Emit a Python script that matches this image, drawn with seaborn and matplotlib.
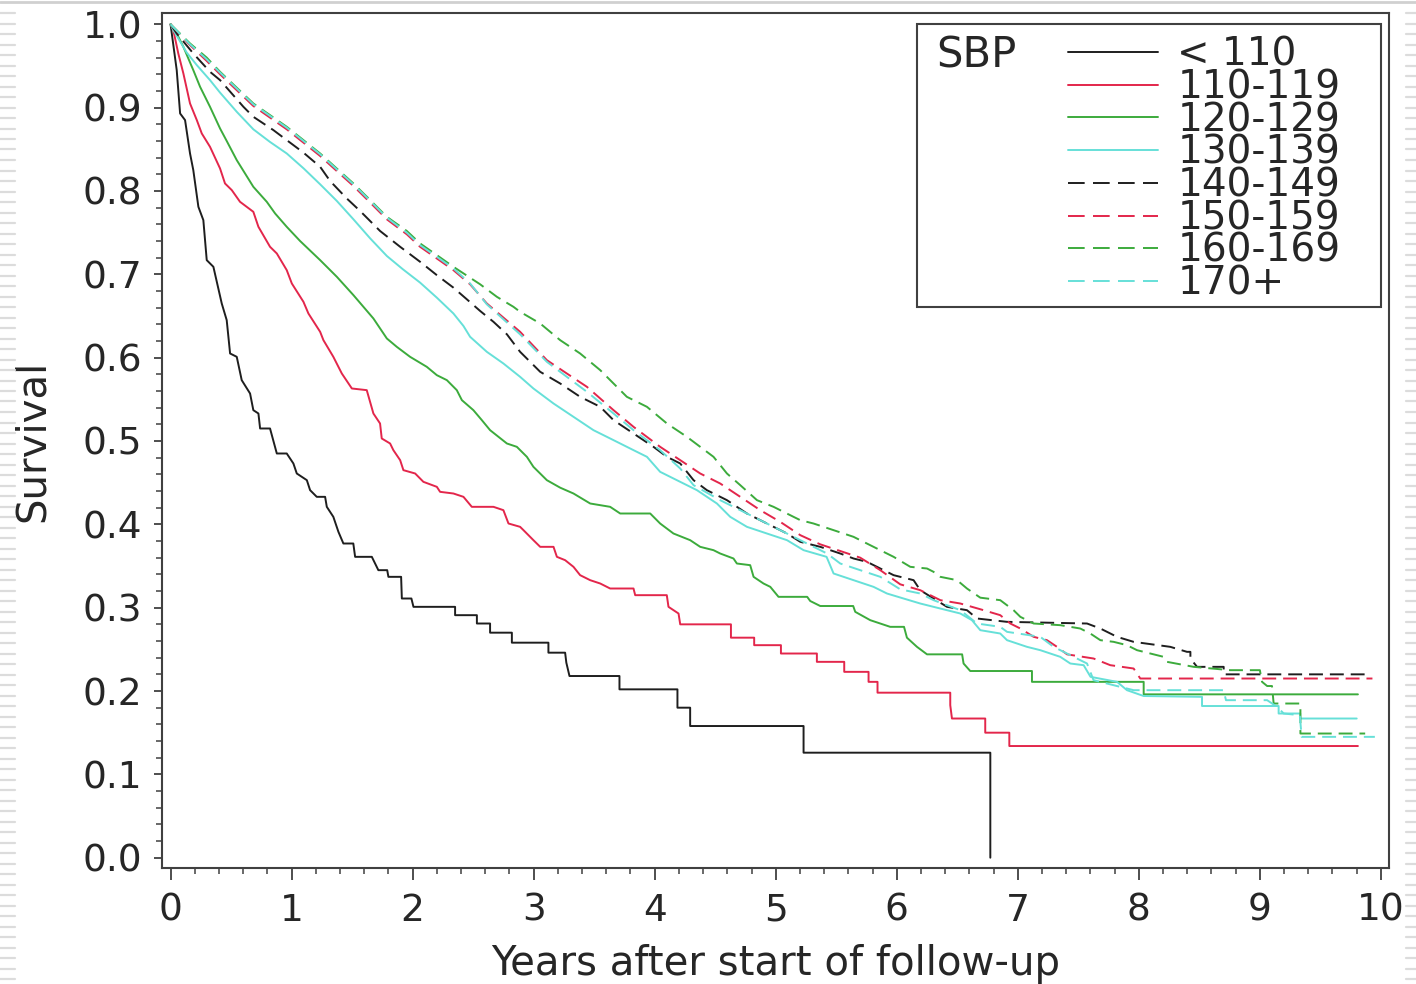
import numpy as np
import pandas as pd
import matplotlib
matplotlib.use("Agg")
import matplotlib.pyplot as plt
from matplotlib.lines import Line2D
from matplotlib.patches import Rectangle
from matplotlib.ticker import MultipleLocator, FormatStrFormatter
import seaborn as sns

# ---------------- data ----------------
groups = ["< 110", "110-119", "120-129", "130-139", "140-149", "150-159", "160-169", "170+"]

t_lt110 = [0.0, 0.051, 0.079, 0.12, 0.161, 0.188, 0.23, 0.271, 0.299, 0.354, 0.423, 0.464, 0.492, 0.547,
           0.588, 0.657, 0.684, 0.726, 0.74, 0.822, 0.878, 0.96, 1.015, 1.043, 1.126, 1.153, 1.208, 1.277,
           1.291, 1.345, 1.387, 1.428, 1.51, 1.525, 1.663, 1.717, 1.79, 1.80, 1.905, 1.911, 1.99, 2.007,
           2.351, 2.351, 2.531, 2.531, 2.64, 2.64, 2.82, 2.82, 3.122, 3.122, 3.26, 3.27, 3.296, 3.709,
           3.709, 4.188, 4.188, 4.293, 4.293, 5.23, 5.23, 6.773, 6.773]
s_lt110 = [1.0, 0.945, 0.893, 0.885, 0.845, 0.825, 0.781, 0.765, 0.717, 0.709, 0.665, 0.645, 0.605, 0.601,
           0.573, 0.557, 0.537, 0.533, 0.515, 0.515, 0.485, 0.485, 0.473, 0.461, 0.453, 0.441, 0.433, 0.433,
           0.421, 0.409, 0.391, 0.377, 0.377, 0.361, 0.361, 0.345, 0.345, 0.337, 0.337, 0.311, 0.311, 0.301,
           0.301, 0.291, 0.291, 0.281, 0.281, 0.270, 0.270, 0.258, 0.258, 0.246, 0.246, 0.234, 0.218, 0.218,
           0.202, 0.202, 0.180, 0.180, 0.158, 0.158, 0.126, 0.126, 0.0]

t_110 = [0.0, 0.023, 0.064, 0.106, 0.161, 0.217, 0.258, 0.326, 0.409, 0.45, 0.506, 0.574, 0.684, 0.726,
         0.822, 0.878, 0.96, 1.002, 1.098, 1.139, 1.236, 1.263, 1.345, 1.415, 1.498, 1.621, 1.676, 1.731,
         1.745, 1.814, 1.841, 1.897, 1.924, 2.021, 2.089, 2.2, 2.227, 2.337, 2.42, 2.489, 2.668, 2.75,
         2.792, 2.888, 2.916, 2.998, 3.054, 3.164, 3.192, 3.26, 3.329, 3.384, 3.467, 3.55, 3.632, 3.825,
         3.839, 4.10, 4.114, 4.197, 4.211, 4.63, 4.63, 4.822, 4.822, 5.043, 5.043, 5.34, 5.34, 5.566,
         5.566, 5.767, 5.767, 5.841, 5.841, 6.442, 6.442, 6.456, 6.731, 6.731, 6.93, 6.93, 9.81]
s_110 = [1.0, 0.993, 0.965, 0.941, 0.905, 0.885, 0.869, 0.853, 0.827, 0.809, 0.801, 0.787, 0.775, 0.757,
         0.733, 0.725, 0.705, 0.689, 0.667, 0.653, 0.631, 0.621, 0.601, 0.581, 0.563, 0.561, 0.533, 0.521,
         0.503, 0.497, 0.489, 0.477, 0.465, 0.461, 0.451, 0.445, 0.439, 0.437, 0.433, 0.421, 0.421, 0.417,
         0.401, 0.397, 0.393, 0.381, 0.373, 0.373, 0.361, 0.357, 0.349, 0.339, 0.333, 0.329, 0.323, 0.323,
         0.315, 0.315, 0.301, 0.293, 0.280, 0.280, 0.264, 0.264, 0.255, 0.255, 0.245, 0.245, 0.235, 0.235,
         0.223, 0.223, 0.211, 0.211, 0.198, 0.198, 0.183, 0.167, 0.167, 0.150, 0.150, 0.134, 0.134]

t_120 = [0.0, 0.037, 0.106, 0.188, 0.244, 0.326, 0.409, 0.464, 0.547, 0.684, 0.795, 0.864, 0.96,
         1.07, 1.236, 1.374, 1.511, 1.676, 1.787, 1.869, 1.979, 2.117, 2.2, 2.283, 2.365,
         2.407, 2.502, 2.572, 2.64, 2.779, 2.861, 2.944, 2.998, 3.109, 3.219, 3.329, 3.467, 3.632, 3.715,
         3.963, 4.045, 4.155, 4.293, 4.376, 4.486, 4.541, 4.651, 4.679, 4.789, 4.817, 4.899, 4.955, 5.023,
         5.26, 5.285, 5.368, 5.64, 5.657, 5.781, 5.946, 6.06, 6.084, 6.167, 6.25, 6.54, 6.552, 6.607,
         7.117, 7.117, 8.04, 8.04, 9.81]
s_120 = [1.0, 0.993, 0.973, 0.945, 0.925, 0.901, 0.875, 0.860, 0.837, 0.805, 0.787, 0.773, 0.757,
         0.740, 0.717, 0.697, 0.675, 0.647, 0.623, 0.613, 0.601, 0.589, 0.579, 0.573, 0.561,
         0.549, 0.537, 0.525, 0.513, 0.497, 0.493, 0.481, 0.469, 0.453, 0.444, 0.437, 0.425, 0.421, 0.413,
         0.413, 0.401, 0.389, 0.381, 0.373, 0.369, 0.365, 0.359, 0.353, 0.351, 0.337, 0.329, 0.325, 0.313,
         0.313, 0.308, 0.302, 0.302, 0.295, 0.285, 0.277, 0.277, 0.264, 0.253, 0.244, 0.244, 0.233, 0.224,
         0.224, 0.211, 0.211, 0.196, 0.196]

t_130 = [0.0, 0.023, 0.134, 0.217, 0.326, 0.409, 0.547, 0.684, 0.82, 0.96, 1.1, 1.236, 1.374,
         1.511, 1.65, 1.787, 1.92, 2.062, 2.2, 2.337, 2.42, 2.475, 2.613, 2.75, 2.888, 2.998, 3.164,
         3.329, 3.494, 3.66, 3.825, 3.936, 4.045, 4.183, 4.349, 4.514, 4.624, 4.762, 4.927, 5.093, 5.23,
         5.42, 5.478, 5.643, 5.808, 5.919, 6.056, 6.194, 6.304, 6.525, 6.621, 6.69, 6.855, 6.911, 7.076,
         7.186, 7.351, 7.434, 7.544, 7.601, 7.82, 7.902, 8.04, 8.522, 8.522, 9.155, 9.155, 9.334, 9.334, 9.80]
s_130 = [1.0, 0.993, 0.966, 0.951, 0.933, 0.918, 0.895, 0.874, 0.859, 0.845, 0.827, 0.808, 0.788,
         0.766, 0.743, 0.722, 0.706, 0.690, 0.672, 0.653, 0.638, 0.625, 0.607, 0.593, 0.577, 0.563, 0.545,
         0.529, 0.513, 0.501, 0.489, 0.481, 0.463, 0.453, 0.441, 0.425, 0.409, 0.397, 0.389, 0.381, 0.369,
         0.361, 0.341, 0.333, 0.325, 0.317, 0.311, 0.305, 0.301, 0.293, 0.285, 0.273, 0.269, 0.261, 0.253,
         0.249, 0.241, 0.233, 0.231, 0.217, 0.211, 0.201, 0.194, 0.193, 0.182, 0.182, 0.173, 0.173, 0.167, 0.167]

t_140 = [0.0, 0.051, 0.188, 0.326, 0.409, 0.602, 0.684, 0.85, 0.96, 1.098, 1.236, 1.318, 1.456, 1.566,
         1.731, 1.897, 2.062, 2.2, 2.337, 2.448, 2.558, 2.668, 2.779, 2.888, 3.054, 3.219, 3.384, 3.55,
         3.66, 3.825, 3.99, 4.101, 4.211, 4.321, 4.431, 4.597, 4.762, 4.927, 5.093, 5.203, 5.368, 5.533,
         5.643, 5.754, 5.864, 5.974, 6.139, 6.194, 6.304, 6.415, 6.58, 6.663, 6.911, 7.572, 7.682, 7.82,
         7.957, 8.26, 8.398, 8.426, 8.426, 8.481, 8.701, 8.701, 9.89]
s_140 = [1.0, 0.989, 0.965, 0.943, 0.933, 0.901, 0.889, 0.873, 0.861, 0.846, 0.829, 0.812, 0.791, 0.776,
         0.752, 0.733, 0.715, 0.699, 0.684, 0.670, 0.656, 0.643, 0.628, 0.607, 0.583, 0.569, 0.553, 0.541,
         0.525, 0.509, 0.493, 0.481, 0.473, 0.453, 0.441, 0.429, 0.413, 0.401, 0.389, 0.379, 0.373, 0.365,
         0.359, 0.355, 0.347, 0.339, 0.333, 0.321, 0.311, 0.301, 0.297, 0.287, 0.283, 0.281, 0.275, 0.265,
         0.259, 0.253, 0.247, 0.247, 0.239, 0.229, 0.229, 0.220, 0.220]

t_150 = [0.0, 0.161, 0.299, 0.409, 0.684, 0.96, 1.098, 1.236, 1.373, 1.511, 1.65, 1.787, 1.952,
         2.062, 2.2, 2.337, 2.475, 2.613, 2.888, 3.109, 3.274, 3.44, 3.66, 3.825, 4.045, 4.211, 4.376, 4.541,
         4.707, 4.872, 5.037, 5.203, 5.368, 5.533, 5.698, 5.864, 6.029, 6.194, 6.36, 6.525, 6.717, 6.855,
         6.938, 7.021, 7.131, 7.241, 7.324, 7.407, 7.626, 7.764, 7.957, 8.012, 9.93]
s_150 = [1.0, 0.975, 0.956, 0.940, 0.902, 0.874, 0.858, 0.842, 0.824, 0.806, 0.786, 0.766, 0.748,
         0.733, 0.719, 0.705, 0.688, 0.665, 0.631, 0.597, 0.581, 0.565, 0.537, 0.517, 0.493, 0.477, 0.461,
         0.449, 0.433, 0.417, 0.403, 0.387, 0.376, 0.368, 0.360, 0.345, 0.328, 0.321, 0.309, 0.305, 0.297,
         0.291, 0.281, 0.275, 0.265, 0.261, 0.253, 0.244, 0.239, 0.231, 0.227, 0.215, 0.215]

t_160 = [0.0, 0.161, 0.299, 0.409, 0.684, 0.96, 1.098, 1.236, 1.373, 1.511, 1.65, 1.787, 1.952,
         2.062, 2.2, 2.337, 2.558, 2.696, 2.833, 2.888, 3.054, 3.219, 3.384, 3.55, 3.66, 3.77, 3.936,
         4.101, 4.266, 4.376, 4.486, 4.597, 4.707, 4.845, 4.982, 5.037, 5.147, 5.203, 5.312, 5.478, 5.643,
         5.808, 5.974, 6.112, 6.25, 6.304, 6.36, 6.498, 6.58, 6.69, 6.855, 6.965, 7.021, 7.131, 7.351,
         7.516, 7.599, 7.682, 7.792, 7.902, 7.985, 8.205, 8.233, 8.453, 8.756, 9.0, 9.018, 9.06, 9.1,
         9.114, 9.335, 9.335, 9.87]
s_160 = [1.0, 0.977, 0.960, 0.943, 0.905, 0.877, 0.861, 0.845, 0.827, 0.809, 0.789, 0.769, 0.752,
         0.737, 0.723, 0.709, 0.688, 0.673, 0.661, 0.655, 0.641, 0.621, 0.605, 0.585, 0.569, 0.553, 0.541,
         0.521, 0.505, 0.493, 0.481, 0.461, 0.447, 0.429, 0.421, 0.417, 0.409, 0.405, 0.401, 0.393, 0.385,
         0.373, 0.361, 0.349, 0.347, 0.343, 0.337, 0.333, 0.323, 0.312, 0.309, 0.297, 0.289, 0.281, 0.279,
         0.275, 0.269, 0.261, 0.259, 0.255, 0.249, 0.241, 0.235, 0.229, 0.225, 0.225, 0.211, 0.206, 0.206,
         0.185, 0.185, 0.149, 0.149]

t_170 = [0.0, 0.161, 0.299, 0.409, 0.684, 0.96, 1.098, 1.236, 1.373, 1.511, 1.65, 1.787, 1.952,
         2.062, 2.2, 2.337, 2.475, 2.613, 2.888, 3.109, 3.274, 3.44, 3.66, 3.825, 4.045, 4.211, 4.321, 4.541,
         4.817, 5.037, 5.258, 5.424, 5.533, 5.698, 5.864, 6.029, 6.194, 6.304, 6.525, 6.663, 6.855, 6.911,
         7.186, 7.296, 7.461, 7.572, 7.626, 7.846, 7.957, 8.70, 8.72, 9.06, 9.142, 9.197, 9.33, 9.345, 9.95]
s_170 = [1.0, 0.976, 0.958, 0.942, 0.904, 0.876, 0.860, 0.844, 0.826, 0.808, 0.788, 0.768, 0.750,
         0.735, 0.721, 0.707, 0.689, 0.664, 0.628, 0.595, 0.577, 0.559, 0.533, 0.513, 0.489, 0.467, 0.447,
         0.429, 0.409, 0.393, 0.377, 0.365, 0.353, 0.345, 0.337, 0.322, 0.317, 0.309, 0.297, 0.281, 0.277,
         0.271, 0.265, 0.253, 0.241, 0.233, 0.213, 0.205, 0.201, 0.201, 0.189, 0.189, 0.181, 0.173, 0.171,
         0.145, 0.145]

times = [t_lt110, t_110, t_120, t_130, t_140, t_150, t_160, t_170]
survs = [s_lt110, s_110, s_120, s_130, s_140, s_150, s_160, s_170]

colors = ["#1e1e1e", "#e3264b", "#3cab3c", "#66e0d8"] * 2
dash_pat = (10, 5)
styles = ["", "", "", "", dash_pat, dash_pat, dash_pat, dash_pat]

df = pd.concat(
    [pd.DataFrame({"t": t, "s": s, "SBP": g}) for g, t, s in zip(groups, times, survs)],
    ignore_index=True,
)

# ---------------- figure ----------------
sns.set_style("white")
plt.rcParams["font.family"] = ["DejaVu Sans"]
plt.rcParams["lines.scale_dashes"] = False

fig = plt.figure(figsize=(14.16, 9.84), dpi=100)
ax = fig.add_axes([0.1142, 0.1176, 0.8670, 0.8689])

LW = 1.4
sns.lineplot(
    data=df, x="t", y="s", hue="SBP", style="SBP",
    hue_order=groups, style_order=groups,
    palette=dict(zip(groups, colors)), dashes=dict(zip(groups, styles)),
    estimator=None, sort=False, linewidth=LW, legend=False, ax=ax,
)

ax.set_xlim(-0.073, 10.07)
ax.set_ylim(-0.0127, 1.0132)
ax.xaxis.set_major_locator(MultipleLocator(1))
ax.xaxis.set_minor_locator(MultipleLocator(0.2))
ax.yaxis.set_major_locator(MultipleLocator(0.1))
ax.yaxis.set_minor_locator(MultipleLocator(0.02))
ax.yaxis.set_major_formatter(FormatStrFormatter("%.1f"))

spine_col = "#404040"
for sp in ax.spines.values():
    sp.set_visible(True)
    sp.set_color(spine_col)
    sp.set_linewidth(1.5)

ax.tick_params(axis="both", which="both", direction="out", color=spine_col,
               bottom=True, left=True, top=False, right=False)
ax.tick_params(axis="x", which="major", length=8.5, width=1.3, pad=9, labelsize=27)
ax.tick_params(axis="x", which="minor", length=4.5, width=1.1)
ax.tick_params(axis="y", which="major", length=6, width=1.3, pad=8, labelsize=27)
ax.tick_params(axis="y", which="minor", length=4.5, width=1.1)

ax.set_xlabel("Years after start of follow-up", fontsize=29, labelpad=11)
ax.set_ylabel("Survival", fontsize=29, labelpad=21)

# ---------------- legend ----------------
handles = []
for c, st in zip(colors, styles):
    if st == "":
        handles.append(Line2D([], [], color=c, lw=LW, linestyle="-"))
    else:
        handles.append(Line2D([], [], color=c, lw=LW, linestyle=(0, (12, 6))))
leg = ax.legend(handles, groups, loc="upper left", bbox_to_anchor=(0.7383, 0.9738),
                frameon=False, handlelength=2.31, handletextpad=0.5, labelspacing=-0.136,
                borderpad=0, borderaxespad=0, fontsize=28)
ax.add_patch(Rectangle((0.615, 0.6565), 0.3782, 0.331, transform=ax.transAxes,
                       fill=False, ec=spine_col, lw=1.5, zorder=5))
ax.text(0.6307, 0.9512, "SBP", transform=ax.transAxes, fontsize=30, ha="left", va="center")

# ---------------- page decoration (striped margins of the source slide) ----------------
for yy in np.arange(13, 984, 10.5):
    fig.add_artist(Line2D([0, 0.0106], [1 - yy / 984] * 2, color="#dcdcdc", lw=1.6))
    fig.add_artist(Line2D([0.9929, 1.0], [1 - yy / 984] * 2, color="#dcdcdc", lw=1.6))
fig.add_artist(Line2D([0, 1], [0.9975, 0.9975], color="#d0d0d0", lw=2.0))

fig.savefig("out.png", dpi=100, facecolor="white")
